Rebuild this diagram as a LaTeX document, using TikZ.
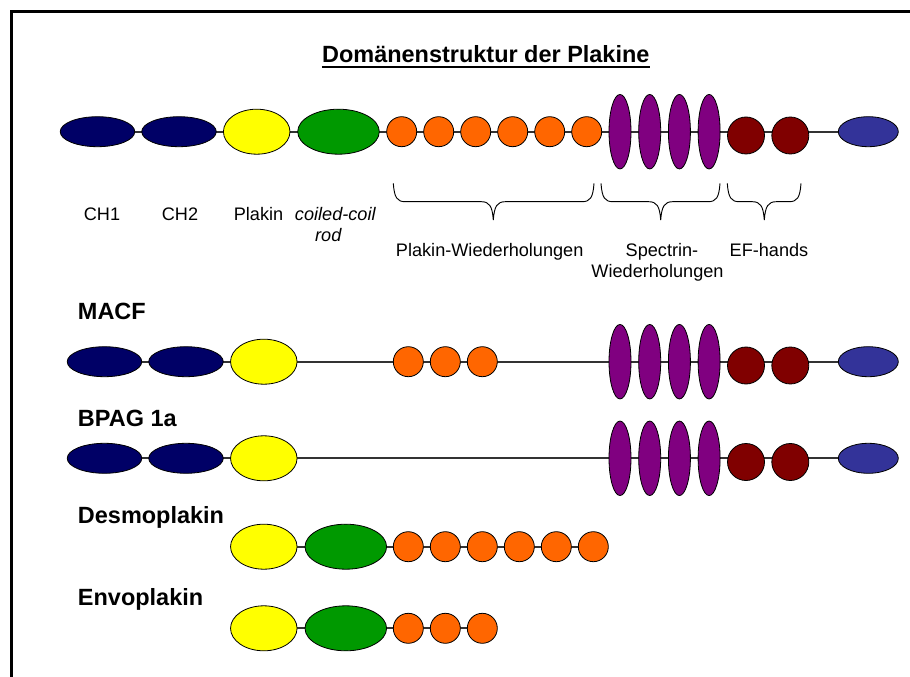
\documentclass[tikz,border=0pt]{standalone}
\usepackage{fontspec}
\setmainfont{Liberation Sans}
\usetikzlibrary{shapes.geometric}
\definecolor{chcol}{HTML}{000066}
\definecolor{pkcol}{HTML}{FFFF00}
\definecolor{cccol}{HTML}{009900}
\definecolor{orcol}{HTML}{FF6600}
\definecolor{spcol}{HTML}{800080}
\definecolor{efcol}{HTML}{800000}
\definecolor{encol}{HTML}{333399}
\definecolor{bbcol}{HTML}{333333}
\newcommand\plbrace[3]{%
  \draw[bracestyle] (#1,183.3) .. controls (#1+1,198) and (#1+4,201.7) .. (#1+12,201.7)
    -- (#2-12,201.7) .. controls (#2-4,201.7) and (#2-1,206) .. (#2,220)
    .. controls (#2+1,206) and (#2+4,201.7) .. (#2+12,201.7)
    -- (#3-12,201.7) .. controls (#3-4,201.7) and (#3-1,198) .. (#3,183.3);}
\begin{document}
\begin{tikzpicture}[x=0.75pt,y=-0.75pt,
  dom/.style={ellipse, draw=black, line width=0.6pt, inner sep=0pt},
  ch/.style={dom, fill=chcol, minimum width=55.9pt, minimum height=22.5pt},
  pk/.style={dom, fill=pkcol, minimum width=49.9pt, minimum height=33.75pt},
  cc/.style={dom, fill=cccol, minimum width=61.2pt, minimum height=33.75pt},
  orr/.style={dom, fill=orcol, minimum width=22.5pt, minimum height=22.5pt},
  sp/.style={dom, fill=spcol, minimum width=16.5pt, minimum height=55.9pt},
  ef/.style={dom, fill=efcol, minimum width=27.75pt, minimum height=27.75pt},
  en/.style={dom, fill=encol, minimum width=45pt, minimum height=22.5pt},
  backbone/.style={draw=bbcol, line width=1.5pt},
  bracestyle/.style={draw=black, line width=0.7pt},
  lbl/.style={inner sep=0pt, anchor=base, font=\fontsize{13.6}{16}\selectfont},
  prot/.style={inner sep=0pt, anchor=base west, font=\fontsize{17.6}{20}\selectfont\bfseries},
  frame/.style={draw=black, line width=1.9pt}]
\useasboundingbox (0,0) rectangle (910,677);
\draw[frame] (11.5,680) -- (11.5,11.5) -- (912,11.5);

% title
\node[inner sep=0pt, anchor=base, font=\fontsize{17.6}{20}\selectfont\bfseries] (title) at (485.8,62.7) {Domänenstruktur der Plakine};
\draw[line width=1.5pt] ([yshift=-3pt]title.base west) -- ([yshift=-3pt]title.base east);

% ---------- row 1 ----------
\draw[backbone] (97.5,131.7) coordinate (r1s) -- (868.3,131.7) coordinate (r1e);
\node[ch] (r1a) at (97.5,131.7) {};
\node[ch] (r1b) at (179,131.7) {};
\node[pk] (r1p) at (256.7,131.7) {};
\node[cc] (r1c) at (338.5,131.7) {};
\foreach \i in {0,...,5} \node[orr] (r1o\i) at (401.7+37*\i,131.7) {};
\foreach \i in {0,...,3} \node[sp] (r1s\i) at (620+29.7*\i,131.7) {};
\node[ef] (r1f1) at (746,135.5) {};
\node[ef] (r1f2) at (790.3,135.5) {};
\node[en] (r1n) at (868.3,131.7) {};

% labels row 1
\node[lbl] (lch1) at (102,221) {CH1};
\node[lbl] (lch2) at (180,221) {CH2};
\node[lbl] (lpk) at (258.5,221) {Plakin};
\node[lbl] (lcc1) at (335.3,221) {\itshape coiled-coil};
\node[lbl] (lcc2) at (328.3,241.7) {\itshape rod};
\node[lbl] (lpw) at (489.7,256.7) {Plakin-Wiederholungen};
\node[lbl] (lsp1) at (662,256.7) {Spectrin-};
\node[lbl] (lsp2) at (657.5,277.4) {Wiederholungen};
\node[lbl] (lef) at (769,256.7) {EF-hands};

\plbrace{393.3}{493.3}{594}
\plbrace{601}{660.7}{720}
\plbrace{727.3}{764.3}{801}

% ---------- row 2: MACF ----------
\node[prot] (macf) at (77.7,320) {MACF};
\draw[backbone] (104.5,361.7) -- (868.3,361.7);
\node[ch] (r2a) at (104.5,361.7) {};
\node[ch] (r2b) at (186,361.7) {};
\node[pk] (r2p) at (263.8,361.7) {};
\foreach \i in {0,...,2} \node[orr] (r2o\i) at (408.3+37*\i,361.7) {};
\foreach \i in {0,...,3} \node[sp] (r2s\i) at (620+29.7*\i,361.7) {};
\node[ef] (r2f1) at (746,365.5) {};
\node[ef] (r2f2) at (790.3,365.5) {};
\node[en] (r2n) at (868.3,361.7) {};

% ---------- row 3: BPAG 1a ----------
\node[prot] (bpag) at (77.7,426.7) {BPAG 1a};
\draw[backbone] (104.5,458.3) -- (868.3,458.3);
\node[ch] (r3a) at (104.5,458.3) {};
\node[ch] (r3b) at (186,458.3) {};
\node[pk] (r3p) at (263.8,458.3) {};
\foreach \i in {0,...,3} \node[sp] (r3s\i) at (620+29.7*\i,458.3) {};
\node[ef] (r3f1) at (746,462) {};
\node[ef] (r3f2) at (790.3,462) {};
\node[en] (r3n) at (868.3,458.3) {};

% ---------- row 4: Desmoplakin ----------
\node[prot] (desmo) at (77.7,523.3) {Desmoplakin};
\draw[backbone] (263.8,546.7) -- (593.3,546.7);
\node[pk] (r4p) at (263.8,546.7) {};
\node[cc] (r4c) at (345.8,546.7) {};
\foreach \i in {0,...,5} \node[orr] (r4o\i) at (408.3+37*\i,546.7) {};

% ---------- row 5: Envoplakin ----------
\node[prot] (envo) at (77.7,605) {Envoplakin};
\draw[backbone] (263.8,628.3) -- (482.3,628.3);
\node[pk] (r5p) at (263.8,628.3) {};
\node[cc] (r5c) at (345.8,628.3) {};
\foreach \i in {0,...,2} \node[orr] (r5o\i) at (408.3+37*\i,628.3) {};
\end{tikzpicture}
\end{document}
